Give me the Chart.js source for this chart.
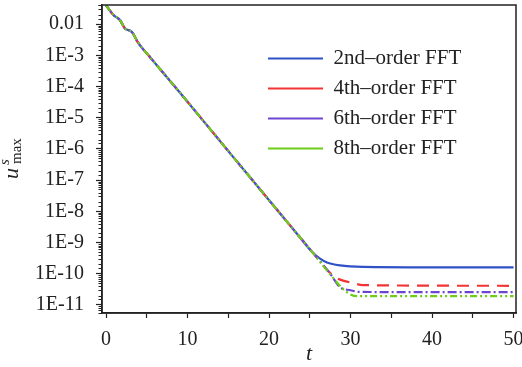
<!DOCTYPE html>
<html>
<head>
<meta charset="utf-8">
<style>
  html, body { margin: 0; padding: 0; background: #fff; }
  #wrap { width: 522px; height: 367px; }
</style>
</head>
<body>
<div id="wrap"><canvas id="chart" width="522" height="367"></canvas></div>
<script src="https://cdn.jsdelivr.net/npm/chart.js"></script>
<script>
  // shared decay (all four schemes sit on top of each other here)
  const tHead = [0, 0.9, 1.7, 2.3, 3.2, 3.9, 5.4, 9.1, 15, 21, 23.4];
  const uHead = [4.0e-2, 1.95e-2, 1.35e-2, 7.4e-3, 5.5e-3, 2.6e-3, 8.7e-4, 6.2e-5, 8.5e-7, 1.1e-8, 1.95e-9];

  // tails where the schemes level off
  const t2 = [25.4, 26.3, 27.1, 28.7, 31.5, 40, 50];
  const u2 = [4.6e-10, 3.0e-10, 2.3e-10, 1.85e-10, 1.65e-10, 1.6e-10, 1.6e-10];
  const t4 = [25, 27.5, 28.3, 29.3, 30.3, 31.5, 50];
  const u4 = [6.2e-10, 1.05e-10, 7.2e-11, 5.8e-11, 5.0e-11, 4.3e-11, 4.1e-11];
  const t6 = [25, 27.5, 28.7, 30, 31, 50];
  const u6 = [6.2e-10, 1.0e-10, 3.7e-11, 2.95e-11, 2.6e-11, 2.55e-11];
  const t8 = [25, 27.5, 29.5, 30.8, 50];
  const u8 = [6.2e-10, 9.5e-11, 2.6e-11, 1.9e-11, 1.9e-11];

  const seriesNames = ['2nd\u2013order FFT', '4th\u2013order FFT', '6th\u2013order FFT', '8th\u2013order FFT'];
  const xTicks = [0, 10, 20, 30, 40, 50];

  const serif = "'Liberation Serif', 'DejaVu Serif', serif";
  const ink = '#222';

  function points(ts, us) {
    const pts = tHead.map((t, i) => ({ x: t, y: uHead[i] }));
    ts.forEach((t, i) => pts.push({ x: t, y: us[i] }));
    return pts;
  }

  function isDecade(v) {
    const e = Math.round(Math.log10(v));
    return Math.abs(v / Math.pow(10, e) - 1) < 1e-6;
  }

  function line(label, data, color, dash, order) {
    return {
      label: label,
      data: data,
      borderColor: color,
      backgroundColor: color,
      borderWidth: 2.2,
      borderDash: dash,
      pointRadius: 0,
      fill: false,
      cubicInterpolationMode: 'monotone',
      order: order
    };
  }

  // frame box + short minor ticks on the log axis
  const framePlugin = {
    id: 'frame',
    afterDatasetsDraw(chart) {
      const { ctx, chartArea: a } = chart;
      const y = chart.scales.y;
      ctx.save();
      ctx.strokeStyle = ink;
      ctx.lineWidth = 1.5;
      ctx.strokeRect(a.left, a.top, a.right - a.left, a.bottom - a.top);
      ctx.lineWidth = 1;
      y.ticks.forEach(t => {
        if (isDecade(t.value)) return;
        const py = Math.round(y.getPixelForValue(t.value)) + 0.5;
        ctx.beginPath();
        ctx.moveTo(a.left - 3.5, py);
        ctx.lineTo(a.left, py);
        ctx.stroke();
      });
      ctx.restore();
    }
  };

  // y title: italic u with superscript s and subscript max, rotated
  const yTitlePlugin = {
    id: 'yTitle',
    afterDraw(chart) {
      const { ctx } = chart;
      ctx.save();
      ctx.translate(18, 160);
      ctx.rotate(-Math.PI / 2);
      ctx.fillStyle = ink;
      ctx.textBaseline = 'alphabetic';
      ctx.textAlign = 'left';
      ctx.font = 'italic 22px ' + serif;
      ctx.fillText('u', -19, 0);
      ctx.font = 'italic 15px ' + serif;
      ctx.fillText('s', -5, -9);
      ctx.font = '15px ' + serif;
      ctx.fillText('max', -4, 3);
      ctx.restore();
    }
  };

  // put the legend box in the upper right of the plot
  const legendPlace = {
    id: 'legendPlace',
    afterLayout(chart) {
      const lg = chart.legend;
      if (!lg) return;
      lg.left = 259;
      lg.top = 39;
      lg.right = lg.left + lg.width;
      lg.bottom = lg.top + lg.height;
    }
  };

  new Chart(document.getElementById('chart'), {
    type: 'line',
    data: {
      datasets: [
        line(seriesNames[0], points(t2, u2), '#2f52c6', [], 3),
        line(seriesNames[1], points(t4, u4), '#f23434', [12, 8], 2),
        line(seriesNames[2], points(t6, u6), '#6c46d2', [9, 3, 2, 3], 1),
        line(seriesNames[3], points(t8, u8), '#6cce18', [7, 3, 2, 3, 2, 3], 0)
      ]
    },
    options: {
      responsive: false,
      animation: false,
      devicePixelRatio: 1,
      layout: { padding: { left: 0, right: 6, top: 5, bottom: 0 } },
      plugins: {
        tooltip: { enabled: false },
        legend: {
          position: 'chartArea',
          align: 'start',
          labels: {
            usePointStyle: true,
            pointStyle: 'line',
            pointStyleWidth: 55,
            padding: 9,
            color: ink,
            font: { family: serif, size: 21, lineHeight: 1.2 },
            sort: (a, b) => a.datasetIndex - b.datasetIndex
          }
        }
      },
      scales: {
        x: {
          type: 'linear',
          min: -0.5,
          max: 50.3,
          afterFit: s => { s.height = 54; s.paddingLeft = 0; s.paddingRight = 0; },
          ticks: {
            stepSize: 5,
            includeBounds: false,
            autoSkip: false,
            maxRotation: 0,
            padding: 10,
            color: ink,
            font: { family: serif, size: 20 },
            callback: v => xTicks.includes(v) ? String(v) : ''
          },
          grid: { drawOnChartArea: false, tickLength: 5, tickColor: ink, tickWidth: 1.2 },
          border: { color: ink, width: 1.5 },
          title: {
            display: true,
            text: 't',
            color: ink,
            font: { family: serif, size: 22, style: 'italic' },
            padding: { top: 0, bottom: 0 }
          }
        },
        y: {
          type: 'logarithmic',
          min: 5.5e-12,
          max: 0.041,
          afterFit: s => { s.width = 102; s.paddingTop = 0; s.paddingBottom = 0; },
          ticks: {
            autoSkip: false,
            padding: 12,
            color: ink,
            font: { family: serif, size: 20 },
            callback: v => {
              if (!isDecade(v)) return '';
              const e = Math.round(Math.log10(v));
              return e === -2 ? '0.01' : '1E' + e;
            }
          },
          grid: {
            drawOnChartArea: false,
            tickLength: 6,
            tickWidth: 1.2,
            tickColor: c => (c.tick && isDecade(c.tick.value)) ? ink : 'rgba(0,0,0,0)'
          },
          border: { color: ink, width: 1.5 }
        }
      }
    },
    plugins: [framePlugin, yTitlePlugin, legendPlace]
  });
</script>
</body>
</html>
